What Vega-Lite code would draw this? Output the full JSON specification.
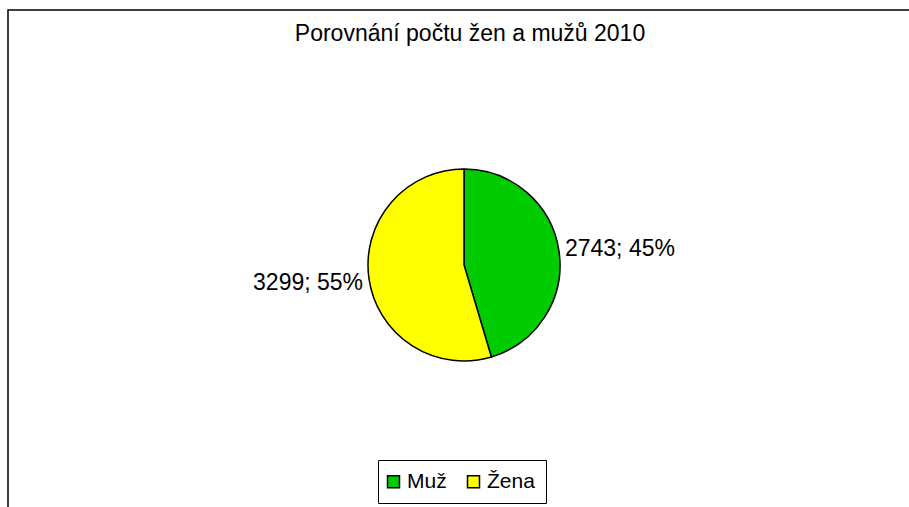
{
  "$schema": "https://vega.github.io/schema/vega-lite/v6.json",
  "width": 912,
  "height": 510,
  "autosize": {"type": "none"},
  "padding": {"left": 8, "top": 10, "right": 0, "bottom": 0},
  "background": "white",
  "view": {"stroke": "black", "strokeWidth": 1.5},
  "title": {
    "text": "Porovnání počtu žen a mužů 2010",
    "font": "Liberation Sans",
    "fontSize": 23,
    "fontWeight": "normal",
    "color": "black",
    "anchor": "middle",
    "baseline": "alphabetic",
    "offset": -54,
    "dx": 6
  },
  "data": {
    "values": [
      {"pohlavi": "Muž", "pocet": 2743},
      {"pohlavi": "Žena", "pocet": 3299}
    ]
  },
  "transform": [
    {"joinaggregate": [{"op": "sum", "field": "pocet", "as": "celkem"}]},
    {"calculate": "datum.pocet + '; ' + format(datum.pocet / datum.celkem, '.0%')", "as": "popisek"}
  ],
  "encoding": {
    "theta": {"field": "pocet", "type": "quantitative", "stack": true},
    "color": {
      "field": "pohlavi",
      "type": "nominal",
      "scale": {"domain": ["Muž", "Žena"], "range": ["#00CC00", "#FFFF00"]},
      "legend": {
        "orient": "none",
        "legendX": 370,
        "legendY": 450,
        "direction": "horizontal",
        "title": null,
        "strokeColor": "black",
        "padding": 11,
        "symbolOffset": -6,
        "symbolType": "square",
        "symbolSize": 144,
        "symbolStrokeColor": "black",
        "symbolStrokeWidth": 1.5,
        "labelFont": "Liberation Sans",
        "labelFontSize": 21,
        "labelColor": "black",
        "labelOffset": 3,
        "columnPadding": 17
      }
    }
  },
  "layer": [
    {
      "mark": {"type": "arc", "outerRadius": 96, "stroke": "black", "strokeWidth": 1.5}
    },
    {
      "mark": {
        "type": "text",
        "radius": 102,
        "font": "Liberation Sans",
        "fontSize": 23,
        "baseline": "middle",
        "align": {"expr": "datum.pohlavi == 'Muž' ? 'left' : 'right'"},
        "dy": {"expr": "datum.pohlavi == 'Muž' ? -1 : 3"}
      },
      "encoding": {
        "text": {"field": "popisek"},
        "color": {"value": "black"},
        "detail": {"field": "pohlavi"}
      }
    }
  ]
}
